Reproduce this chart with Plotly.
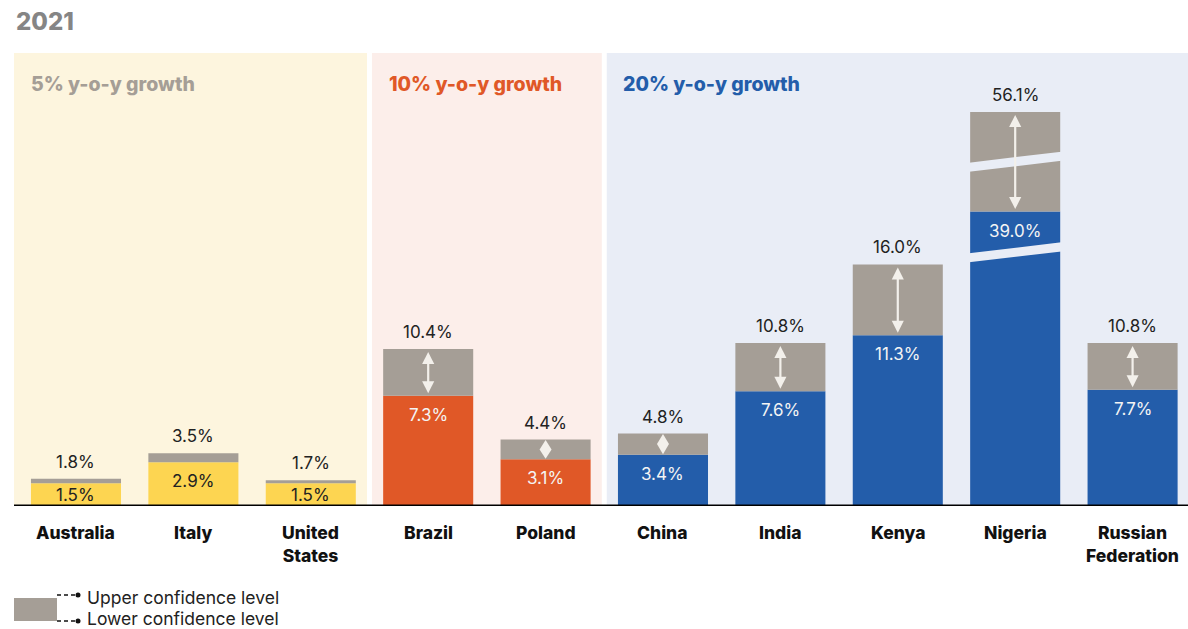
import plotly.graph_objects as go

# ---- data -----------------------------------------------------------------
countries = ["Australia", "Italy", "United<br>States", "Brazil", "Poland",
             "China", "India", "Kenya", "Nigeria", "Russian<br>Federation"]
lower_ci = [1.5, 2.9, 1.5, 7.3, 3.1, 3.4, 7.6, 11.3, 39.0, 7.7]
upper_ci = [1.8, 3.5, 1.7, 10.4, 4.4, 4.8, 10.8, 16.0, 56.1, 10.8]
growth_group = ["5%", "5%", "5%", "10%", "10%", "20%", "20%", "20%", "20%", "20%"]
group_titles = ["5% y-o-y growth", "10% y-o-y growth", "20% y-o-y growth"]
title_text = "2021"

# ---- styling --------------------------------------------------------------
BAR_COLOR = {"5%": "#FDD551", "10%": "#E05827", "20%": "#235DAA"}
PANEL_BG = {"5%": "#FDF5DE", "10%": "#FCEEEA", "20%": "#E9EDF6"}
TITLE_COLOR = {"5%": "#A59E96", "10%": "#E05827", "20%": "#235DAA"}
GREY = "#A59E96"
ARROW = "#F3F0EB"
FONT = "Inter"

W, H = 1188, 629
ML, MR, MT, MB = 14, 0, 53, 123
PLOT_W, PLOT_H = W - ML - MR, H - MT - MB
Y_MAX = 30.0
PX_PER_UNIT = PLOT_H / Y_MAX
X_MIN, X_MAX = -0.528, 9.472
PX_PER_X = PLOT_W / (X_MAX - X_MIN)
BAR_W = 0.767

# Broken value axis: (value where the cut starts, amount cut out)
BREAKS = [(16.8, 19.5), (42.3, 10.5)]


def shown(v):
    """Map a value onto the broken axis."""
    d = v
    for start, cut in BREAKS:
        if v > start + cut:
            d -= cut
    return d


def px_x(px):
    return (px - ML) / PLOT_W


def px_y(py):
    return (H - MB - py) / PLOT_H


lo_d = [shown(v) for v in lower_ci]
hi_d = [shown(v) for v in upper_ci]
xs = list(range(len(countries)))

fig = go.Figure()
fig.add_trace(go.Bar(
    x=xs, y=lo_d, width=BAR_W,
    marker=dict(color=[BAR_COLOR[g] for g in growth_group], line=dict(width=0)),
    hoverinfo="skip", showlegend=False))
fig.add_trace(go.Bar(
    x=xs, y=[h - l for h, l in zip(hi_d, lo_d)], base=lo_d, width=BAR_W,
    marker=dict(color=GREY, line=dict(width=0)),
    hoverinfo="skip", showlegend=False))

shapes = []
annotations = []

# group background panels
groups = ["5%", "10%", "20%"]
spans = {}
for g in groups:
    idx = [i for i, gg in enumerate(growth_group) if gg == g]
    spans[g] = (min(idx), max(idx))
for k, g in enumerate(groups):
    a, b = spans[g]
    x0 = X_MIN if k == 0 else a - 0.479
    x1 = X_MAX if k == len(groups) - 1 else b + 0.479
    shapes.append(dict(type="rect", xref="x", yref="paper", x0=x0, x1=x1,
                       y0=0, y1=1, fillcolor=PANEL_BG[g], line=dict(width=0),
                       layer="below"))
    annotations.append(dict(text=group_titles[k], xref="x", yref="paper",
                            x=x0 + 0.125, y=px_y(84), xanchor="left", yanchor="middle",
                            showarrow=False,
                            font=dict(family=FONT, size=19.5, weight=800,
                                      color=TITLE_COLOR[g])))

# gaps marking the axis breaks on bars that cross them
for i, v in enumerate(upper_ci):
    offset = 0
    for start, cut in BREAKS:
        if v > start + cut:
            yc = start - offset
            bg = PANEL_BG[growth_group[i]]
            half_h, slant = 0.3, 0.36
            x0, x1 = i - BAR_W / 2 - 0.01, i + BAR_W / 2 + 0.01
            path = (f"M {x0},{yc - half_h - slant} L {x0},{yc + half_h - slant} "
                    f"L {x1},{yc + half_h + slant} L {x1},{yc - half_h + slant} Z")
            shapes.append(dict(type="path", path=path, xref="x", yref="y",
                               fillcolor=bg, line=dict(width=0), layer="above"))
        offset += cut

# baseline
shapes.append(dict(type="line", xref="paper", yref="y", x0=0, x1=1, y0=0, y1=0,
                   line=dict(color="#000000", width=3), layer="above"))

for i in xs:
    g = growth_group[i]
    # upper value above the bar
    annotations.append(dict(text=f"{upper_ci[i]:.1f}%", x=i, y=hi_d[i], yshift=17,
                            xref="x", yref="y", showarrow=False, yanchor="middle",
                            font=dict(family=FONT, size=17, color="#222222")))
    # lower value inside the coloured bar
    lo_px = lo_d[i] * PX_PER_UNIT
    shift = min(19, lo_px - 11)
    annotations.append(dict(text=f"{lower_ci[i]:.1f}%", x=i, y=lo_d[i], yshift=-shift,
                            xref="x", yref="y", showarrow=False, yanchor="middle",
                            font=dict(family=FONT, size=17,
                                      color="#222222" if g == "5%" else "#F4F4F4")))
    # confidence marker spanning the grey segment
    if g != "5%":
        span_px = (hi_d[i] - lo_d[i]) * PX_PER_UNIT
        if span_px < 30:
            # too short for a shaft: two heads meeting as a diamond
            hw = 6 / PX_PER_X
            pad = 0.5 / PX_PER_UNIT
            top, bot = hi_d[i] - pad, lo_d[i] + pad
            mid = (top + bot) / 2
            shapes.append(dict(type="path", xref="x", yref="y", layer="above",
                               path=f"M {i},{top} L {i + hw},{mid} L {i},{bot} "
                                    f"L {i - hw},{mid} Z",
                               fillcolor=ARROW, line=dict(width=0)))
        else:
            annotations.append(dict(text="", x=i, y=hi_d[i], ax=i, ay=lo_d[i],
                                    xref="x", yref="y", axref="x", ayref="y",
                                    showarrow=True, arrowhead=2, startarrowhead=2,
                                    arrowside="end+start", arrowwidth=2.2, arrowsize=1.1,
                                    startarrowsize=1.1, arrowcolor=ARROW,
                                    standoff=3, startstandoff=1))
    # category label
    annotations.append(dict(text=countries[i], x=i, y=px_y(520),
                            xref="x", yref="paper", showarrow=False, yanchor="top",
                            font=dict(family=FONT, size=17.5, weight=800,
                                      color="#111111")))

# title
annotations.append(dict(text=title_text, xref="paper", yref="paper",
                        x=px_x(14), y=px_y(21), xanchor="left", yanchor="middle",
                        showarrow=False,
                        font=dict(family=FONT, size=24, weight=800, color="#858585")))

# legend key
shapes.append(dict(type="rect", xref="paper", yref="paper", x0=px_x(14), x1=px_x(57),
                   y0=px_y(621), y1=px_y(598), fillcolor=GREY, line=dict(width=0)))
for py in (595, 621):
    shapes.append(dict(type="line", xref="paper", yref="paper", x0=px_x(57), x1=px_x(76),
                       y0=px_y(py), y1=px_y(py),
                       line=dict(color="#111111", width=1.5, dash="4px,3px")))
    shapes.append(dict(type="circle", xref="paper", yref="paper",
                       x0=px_x(75.5), x1=px_x(80.5), y0=px_y(py + 2.5), y1=px_y(py - 2.5),
                       fillcolor="#111111", line=dict(width=0)))
for py, txt in ((597, "Upper confidence level"), (618, "Lower confidence level")):
    annotations.append(dict(text=txt, xref="paper", yref="paper", x=px_x(85), y=px_y(py),
                            xanchor="left", yanchor="middle", showarrow=False,
                            font=dict(family=FONT, size=17.5, color="#222222")))

fig.update_layout(
    width=W, height=H,
    margin=dict(l=ML, r=MR, t=MT, b=MB, pad=0),
    paper_bgcolor="#FFFFFF", plot_bgcolor="rgba(0,0,0,0)",
    barmode="overlay",
    xaxis=dict(range=[X_MIN, X_MAX], showticklabels=False, showgrid=False,
               zeroline=False, showline=False, ticks="", fixedrange=True),
    yaxis=dict(range=[0, Y_MAX], showticklabels=False, showgrid=False,
               zeroline=False, showline=False, ticks="", fixedrange=True),
    shapes=shapes, annotations=annotations, showlegend=False,
)

fig.write_html("out.html")
